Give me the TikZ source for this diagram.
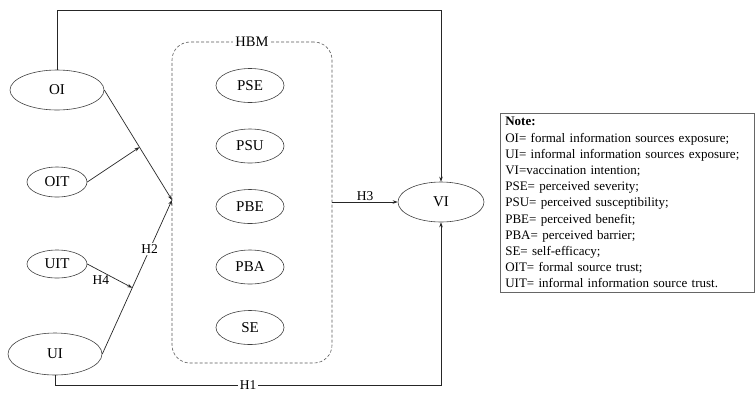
\documentclass[tikz,border=0pt]{standalone}
\usepackage{fontspec}
\setmainfont{Liberation Serif}
\usetikzlibrary{shapes.geometric,arrows.meta,calc}

\begin{document}
\begin{tikzpicture}[x=1pt,y=-1pt,
    var/.style={ellipse,draw=black!75,line width=0.6pt,inner sep=0pt,
      minimum width=68,minimum height=34,font=\fontsize{15}{18}\selectfont},
    link/.style={draw=black!85,line width=0.7pt,-{Stealth[length=5pt,width=3.5pt]}},
    hyp/.style={font=\fontsize{13.5}{16}\selectfont,inner sep=1.5pt}]
  \useasboundingbox (0,0) rectangle (755,392);

  % outer constructs
  \node[var,minimum width=94,minimum height=40] (OI) at (57,90) {OI};
  \node[var,minimum width=60,minimum height=30] (OIT) at (57,182) {OIT};
  \node[var,minimum width=60,minimum height=28] (UIT) at (57,264) {UIT};
  \node[var,minimum width=94,minimum height=42] (UI) at (55,354) {UI};
  \node[var,minimum width=86,minimum height=40] (VI) at (441,202) {VI};

  % HBM block
  \node[draw=black!65,dash pattern=on 3pt off 2pt,line width=0.6pt,rounded corners=18pt,
    minimum width=160,minimum height=321,inner sep=0pt] (hbm) at (252,202.5) {};
  \node[fill=white,inner sep=2.5pt,font=\fontsize{14.5}{17}\selectfont] (hbmlab) at (hbm.north) {HBM};
  \foreach \n [count=\i] in {PSE,PSU,PBE,PBA,SE}
    \node[var] (\n) at (250,25+60.5*\i) {\n};

  \coordinate (hub) at (172,200);
  \coordinate (oimid) at ($(OI.east)!0.52!(hub)$);
  \coordinate (uimid) at ($(UI.east)!0.43!(hub)$);

  \draw[link] (OI.east) -- (hub);
  \draw[link] (UI.east) -- node[hyp,fill=white,pos=0.68] (h2) {H2} (hub);
  \draw[link] (OIT.east) -- (oimid);
  \draw[link] (UIT.east) -- node[hyp,pos=0.3,below=3pt] (h4) {H4} (uimid);

  \draw[link] (hbm.east |- VI.west) -- node[hyp,above] (h3) {H3} (VI.west);
  \draw[link] (OI.north) -- ++(0,-59) -| (VI.north);
  \draw[link] (UI.south) -- ++(0,10) -| node[hyp,fill=white,pos=0.25] (h1) {H1} (VI.south);

  % legend
  \node[draw=black!60,line width=0.6pt,anchor=north west,inner xsep=5pt,inner ysep=4pt,
    text width=244,minimum width=254,align=left,font=\fontsize{13}{16.2}\selectfont] (note) at (500,113)
    {\textbf{Note:}\\
     OI= formal information sources exposure;\\
     UI= informal information sources exposure;\\
     VI=vaccination intention;\\
     PSE= perceived severity;\\
     PSU= perceived susceptibility;\\
     PBE= perceived benefit;\\
     PBA= perceived barrier;\\
     SE= self-efficacy;\\
     OIT= formal source trust;\\
     UIT= informal information source trust.};
\end{tikzpicture}
\end{document}
